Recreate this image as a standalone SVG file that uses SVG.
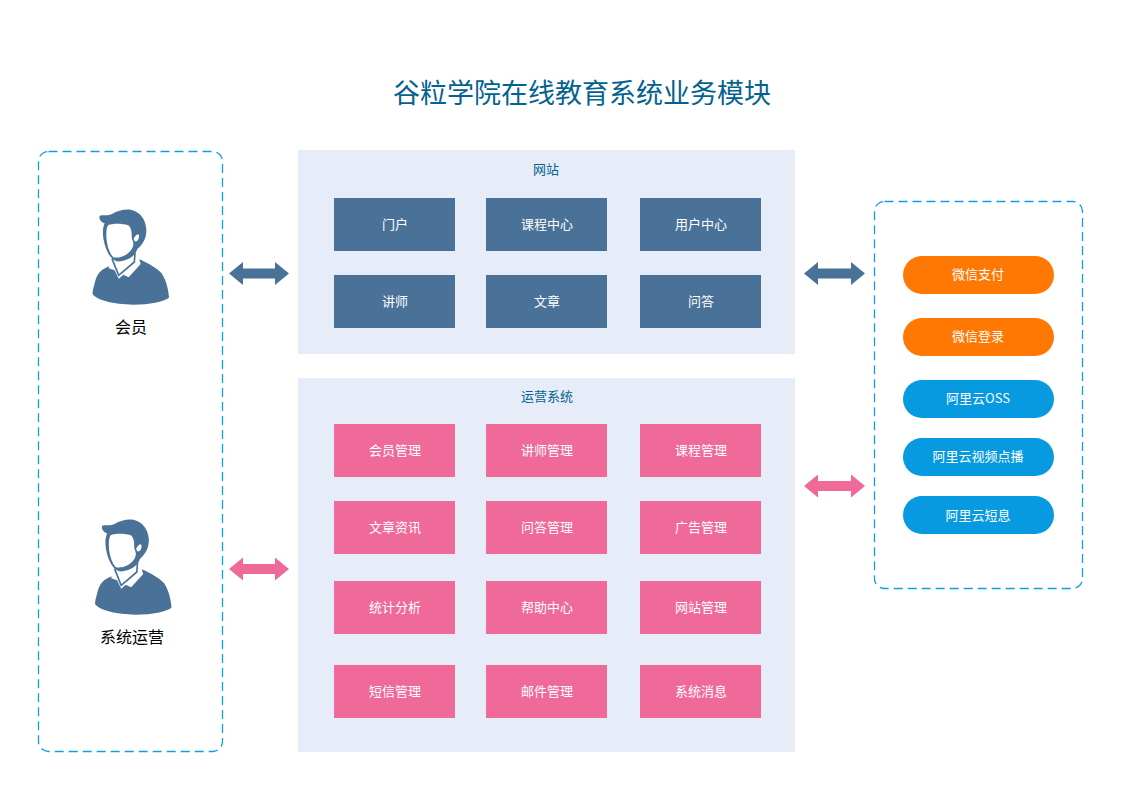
<svg xmlns="http://www.w3.org/2000/svg" width="1123" height="794" viewBox="0 0 1123 794">
<style>
text{font-family:"Noto Sans CJK SC","Liberation Sans",sans-serif;text-anchor:middle}
.t{font-size:27px;fill:#04628f}
.p{fill:#e6edf8}
.h{font-size:13px;fill:#04628f}
.b{fill:#4a7298}
.k{fill:#ef6a98}
.l{font-size:13px;fill:#fff}
.d{fill:none;stroke:#0d9fe0;stroke-width:1.3;stroke-dasharray:9 5}
.o{fill:#ff7804}
.c{fill:#079ae0}
.u{font-size:16px;fill:#000}
</style>
<defs>
<symbol id="person" viewBox="0 0 330 435" width="110" height="145">
<path class="b" d="M92 198C64 205 50 222 44 250C40 265 37 275 38 283C50 300 100 314 160 314C210 314 250 305 267 293C266 270 258 240 245 220C232 205 205 190 178 178Z"/>
<path fill="#fff" d="M86 205L104 211L116 236L130 224L146 232L182 192L176 172L96 172Z"/>
<path fill="none" stroke="#4a7298" stroke-width="5" d="M96 176L116 226L163 186L165 158"/>
<path class="b" d="M58 50C60 42 78 50 96 42C115 32 135 26 155 30C180 36 197 58 199 88C200 112 190 132 172 147C168 166 140 186 110 184C88 178 72 140 69 105C68 90 70 78 74 70C66 68 58 60 58 50Z"/>
<path fill="#fff" d="M84 76C98 70 125 70 145 76C153 82 156 95 155 112C156 122 164 128 158 142C148 166 118 176 100 172C88 160 78 130 79 100C79 90 81 82 84 76Z"/>
<path fill="#fff" d="M161 116C168 103 178 97 177 111C176 120 170 126 164 124Z"/>
</symbol>
</defs>
<text class="t" x="582" y="103">谷粒学院在线教育系统业务模块</text>
<g id="connectors">
<path class="b" d="M229 273.500L243 262V268.500H275V262L289 273.500L275 285V278.500H243V285Z"/>
<path class="b" d="M804 273.500L818 262V268.500H851V262L865 273.500L851 285V278.500H818V285Z"/>
<path class="k" d="M229 569L243 557.500V564H275V557.500L289 569L275 580.500V574H243V580.500Z"/>
<path class="k" d="M804 486L818 474.500V481H851V474.500L865 486L851 497.500V491H818V497.500Z"/>
</g>
<g id="users-panel">
<rect class="d" x="38.500" y="151.500" width="184" height="600" rx="10"/>
</g>
<g id="member">
<use href="#person" x="80" y="200"/>
<text class="u" x="131" y="333">会员</text>
</g>
<g id="operator">
<use href="#person" x="82.500" y="510"/>
<text class="u" x="132" y="643">系统运营</text>
</g>
<g id="website">
<rect class="p" x="298" y="150" width="497" height="204"/>
<text class="h" x="546" y="173.500">网站</text>
</g>
<g id="w1"><rect class="b" x="334" y="198" width="121" height="53"/><text class="l" x="395" y="228.500">门户</text></g>
<g id="w2"><rect class="b" x="486" y="198" width="121" height="53"/><text class="l" x="547" y="228.500">课程中心</text></g>
<g id="w3"><rect class="b" x="640" y="198" width="121" height="53"/><text class="l" x="701" y="228.500">用户中心</text></g>
<g id="w4"><rect class="b" x="334" y="275" width="121" height="53"/><text class="l" x="395" y="305.500">讲师</text></g>
<g id="w5"><rect class="b" x="486" y="275" width="121" height="53"/><text class="l" x="547" y="305.500">文章</text></g>
<g id="w6"><rect class="b" x="640" y="275" width="121" height="53"/><text class="l" x="701" y="305.500">问答</text></g>
<g id="ops">
<rect class="p" x="298" y="378" width="497" height="374"/>
<text class="h" x="547" y="400.500">运营系统</text>
</g>
<g id="o1"><rect class="k" x="334" y="424" width="121" height="53"/><text class="l" x="395" y="454.500">会员管理</text></g>
<g id="o2"><rect class="k" x="486" y="424" width="121" height="53"/><text class="l" x="547" y="454.500">讲师管理</text></g>
<g id="o3"><rect class="k" x="640" y="424" width="121" height="53"/><text class="l" x="701" y="454.500">课程管理</text></g>
<g id="o4"><rect class="k" x="334" y="501" width="121" height="53"/><text class="l" x="395" y="531.500">文章资讯</text></g>
<g id="o5"><rect class="k" x="486" y="501" width="121" height="53"/><text class="l" x="547" y="531.500">问答管理</text></g>
<g id="o6"><rect class="k" x="640" y="501" width="121" height="53"/><text class="l" x="701" y="531.500">广告管理</text></g>
<g id="o7"><rect class="k" x="334" y="581" width="121" height="53"/><text class="l" x="395" y="611.500">统计分析</text></g>
<g id="o8"><rect class="k" x="486" y="581" width="121" height="53"/><text class="l" x="547" y="611.500">帮助中心</text></g>
<g id="o9"><rect class="k" x="640" y="581" width="121" height="53"/><text class="l" x="701" y="611.500">网站管理</text></g>
<g id="o10"><rect class="k" x="334" y="665" width="121" height="53"/><text class="l" x="395" y="695.500">短信管理</text></g>
<g id="o11"><rect class="k" x="486" y="665" width="121" height="53"/><text class="l" x="547" y="695.500">邮件管理</text></g>
<g id="o12"><rect class="k" x="640" y="665" width="121" height="53"/><text class="l" x="701" y="695.500">系统消息</text></g>
<g id="services-panel">
<rect class="d" x="874.500" y="201.500" width="208" height="387" rx="10"/>
</g>
<g id="s1"><rect class="o" x="903" y="256" width="151" height="38" rx="19"/><text class="l" x="978" y="278.500">微信支付</text></g>
<g id="s2"><rect class="o" x="903" y="318" width="151" height="38" rx="19"/><text class="l" x="978" y="340.500">微信登录</text></g>
<g id="s3"><rect class="c" x="903" y="380" width="151" height="38" rx="19"/><text class="l" x="978" y="402.500">阿里云OSS</text></g>
<g id="s4"><rect class="c" x="903" y="438" width="151" height="38" rx="19"/><text class="l" x="978" y="460.500">阿里云视频点播</text></g>
<g id="s5"><rect class="c" x="903" y="496" width="151" height="38" rx="19"/><text class="l" x="978" y="519.500">阿里云短息</text></g>
</svg>
